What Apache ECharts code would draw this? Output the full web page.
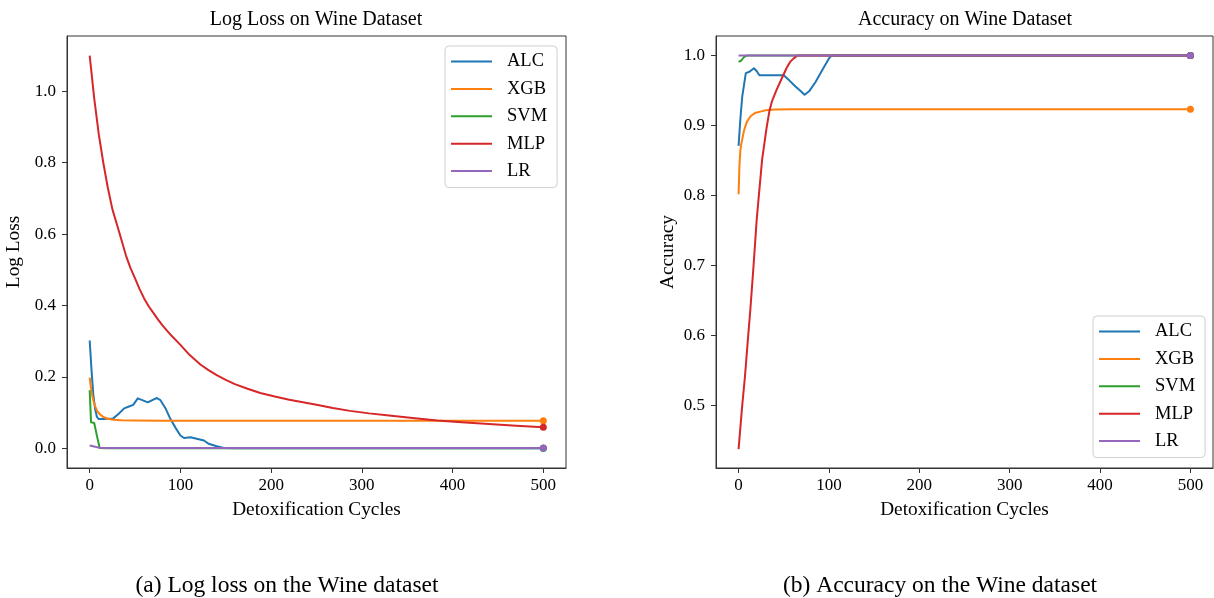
<!DOCTYPE html>
<html>
<head>
<meta charset="utf-8">
<script src="https://cdn.jsdelivr.net/npm/echarts@6/dist/echarts.min.js"></script>
<style>
  html, body { margin: 0; padding: 0; background: #fff; }
  #charts { width: 1214px; height: 598px; }
</style>
</head>
<body>
<div id="charts"></div>
<script>
// tick labels
const xTicks = [0, 100, 200, 300, 400, 500];
const lossTicks = [0, 0.2, 0.4, 0.6, 0.8, 1.0];
const accTicks = [0.5, 0.6, 0.7, 0.8, 0.9, 1.0];
const models = ['ALC', 'XGB', 'SVM', 'MLP', 'LR'];

// log loss
const lossAlcX = [0, 2, 4, 6, 8, 10, 15, 20, 26, 32, 38, 44, 48, 53, 58, 64, 69, 74, 78, 84, 89, 95, 100, 104, 111, 118, 126, 131, 140, 148, 160, 300, 500];
const lossAlcY = [0.302, 0.22, 0.15, 0.11, 0.088, 0.082, 0.082, 0.083, 0.084, 0.097, 0.112, 0.118, 0.122, 0.140, 0.135, 0.129, 0.135, 0.141, 0.135, 0.110, 0.082, 0.056, 0.036, 0.029, 0.031, 0.027, 0.022, 0.013, 0.006, 0.001, 0.0005, 0.0005, 0.0005];
const lossXgbX = [0, 1, 2, 3, 4, 5, 6, 8, 11, 15, 20, 26, 35, 50, 80, 300, 500];
const lossXgbY = [0.198, 0.178, 0.160, 0.146, 0.135, 0.126, 0.118, 0.106, 0.096, 0.088, 0.083, 0.080, 0.0785, 0.0778, 0.0775, 0.0775, 0.0775];
const lossSvmX = [0, 1.5, 5, 8, 11, 20, 500];
const lossSvmY = [0.163, 0.073, 0.071, 0.035, 0.001, 0.0005, 0.0005];
const lossMlpX = [0, 5, 10, 15, 20, 25, 32, 40, 45, 50, 55, 60, 65, 70, 75, 80, 90, 100, 110, 122, 131, 140, 150, 160, 174, 188, 204, 220, 235, 250, 268, 287, 308, 330, 356, 383, 410, 440, 470, 500];
const lossMlpY = [1.10, 0.98, 0.88, 0.80, 0.73, 0.67, 0.61, 0.54, 0.505, 0.476, 0.446, 0.42, 0.398, 0.38, 0.362, 0.345, 0.316, 0.29, 0.262, 0.235, 0.219, 0.205, 0.192, 0.18, 0.167, 0.155, 0.145, 0.136, 0.129, 0.122, 0.113, 0.105, 0.098, 0.092, 0.085, 0.078, 0.073, 0.068, 0.063, 0.059];
const lossLrX = [0, 5, 10, 20, 500];
const lossLrY = [0.008, 0.005, 0.002, 0.001, 0.001];

// accuracy
const accAlcX = [0, 2, 4, 8, 12, 17, 20, 23, 30, 40, 50, 55, 62, 68, 73, 78, 85, 92, 100, 103, 500];
const accAlcY = [0.871, 0.91, 0.941, 0.975, 0.977, 0.982, 0.978, 0.972, 0.972, 0.972, 0.972, 0.966, 0.957, 0.950, 0.944, 0.949, 0.962, 0.978, 0.996, 1.0, 1.0];
const accXgbX = [0, 1, 2, 3, 4, 6, 9, 13, 18, 24, 30, 40, 60, 500];
const accXgbY = [0.802, 0.845, 0.865, 0.874, 0.880, 0.893, 0.905, 0.913, 0.918, 0.920, 0.922, 0.923, 0.9235, 0.9235];
const accSvmX = [0, 3, 6, 9, 500];
const accSvmY = [0.991, 0.993, 0.998, 1.0, 1.0];
const accMlpX = [0, 4, 7, 10, 13, 16.5, 20, 22, 26, 31, 34, 37, 42, 48, 53, 57, 61, 65, 500];
const accMlpY = [0.438, 0.50, 0.541, 0.59, 0.637, 0.699, 0.765, 0.794, 0.851, 0.897, 0.92, 0.935, 0.951, 0.968, 0.982, 0.991, 0.996, 1.0, 1.0];
const accLrX = [0, 500];
const accLrY = [1.0, 1.0];

const colors = ['#1f77b4', '#ff7f0e', '#2ca02c', '#d62728', '#9467bd'];
const FONT = '"Liberation Serif", "Times New Roman", serif';

function line(name, xs, ys, color, idx) {
  return {
    name: name,
    type: 'line',
    xAxisIndex: idx,
    yAxisIndex: idx,
    data: xs.map((x, i) => [x, ys[i]]),
    symbol: 'circle',
    showSymbol: true,
    showAllSymbol: true,
    // only the last point gets a dot
    symbolSize: (v, p) => (p.dataIndex === xs.length - 1 ? 7 : 0),
    lineStyle: { width: 2, color: color, join: 'round' },
    itemStyle: { color: color },
    emphasis: { disabled: true },
    animation: false
  };
}

function legend(left, top) {
  return {
    data: models,
    orient: 'vertical',
    left: left,
    top: top,
    icon: 'rect',
    itemWidth: 41,
    itemHeight: 2,
    itemGap: 8.4,
    padding: [6, 10, 7, 6],
    backgroundColor: '#fff',
    borderColor: '#d0d0d0',
    borderWidth: 1,
    borderRadius: 4,
    selectedMode: false,
    textStyle: { fontFamily: FONT, fontSize: 18.5, color: '#000', lineHeight: 18, padding: [0, 0, 0, 10] }
  };
}

function xAxis(idx) {
  return {
    type: 'value',
    gridIndex: idx,
    min: -25,
    max: 525,
    name: 'Detoxification Cycles',
    nameLocation: 'middle',
    nameGap: 32,
    nameTextStyle: { fontFamily: FONT, fontSize: 19.3, color: '#000' },
    axisLine: { show: true, onZero: false, lineStyle: { color: '#333', width: 1 } },
    axisTick: { show: true, length: 5, customValues: xTicks, lineStyle: { color: '#333' } },
    axisLabel: { customValues: xTicks, margin: 9, fontFamily: FONT, fontSize: 17, color: '#000' },
    splitLine: { show: false }
  };
}

function yAxis(idx, min, max, ticks, name, gap) {
  return {
    type: 'value',
    gridIndex: idx,
    min: min,
    max: max,
    name: name,
    nameLocation: 'middle',
    nameGap: gap,
    nameTextStyle: { fontFamily: FONT, fontSize: 19.3, color: '#000' },
    axisLine: { show: true, onZero: false, lineStyle: { color: '#333', width: 1 } },
    axisTick: { show: true, length: 5, customValues: ticks, lineStyle: { color: '#333' } },
    axisLabel: { customValues: ticks, margin: 11, fontFamily: FONT, fontSize: 17, color: '#000',
      formatter: v => v.toFixed(1) },
    splitLine: { show: false }
  };
}

function label(text, x, y, size) {
  return {
    type: 'text', x: x, y: y,
    style: { text: text, fontFamily: FONT, fontSize: size, fill: '#000', align: 'center', verticalAlign: 'middle' }
  };
}

const chart = echarts.init(document.getElementById('charts'));
chart.setOption({
  backgroundColor: '#fff',
  animation: false,
  grid: [
    { left: 67, top: 36, width: 499, height: 432, show: true, borderColor: '#333', borderWidth: 1 },
    { left: 716, top: 36, width: 497, height: 432, show: true, borderColor: '#333', borderWidth: 1 }
  ],
  xAxis: [xAxis(0), xAxis(1)],
  yAxis: [
    yAxis(0, -0.055, 1.155, lossTicks, 'Log Loss', 44),
    yAxis(1, 0.411, 1.028, accTicks, 'Accuracy', 39)
  ],
  legend: [legend(445, 46), legend(1093, 316)],
  graphic: [
    label('Log Loss on Wine Dataset', 316, 20, 20),
    label('Accuracy on Wine Dataset', 965, 20, 20),
    label('(a) Log loss on the Wine dataset', 287, 586, 23.5),
    label('(b) Accuracy on the Wine dataset', 940, 586, 23.5)
  ],
  series: [
    line('ALC', lossAlcX, lossAlcY, colors[0], 0),
    line('XGB', lossXgbX, lossXgbY, colors[1], 0),
    line('SVM', lossSvmX, lossSvmY, colors[2], 0),
    line('MLP', lossMlpX, lossMlpY, colors[3], 0),
    line('LR', lossLrX, lossLrY, colors[4], 0),
    line('ALC', accAlcX, accAlcY, colors[0], 1),
    line('XGB', accXgbX, accXgbY, colors[1], 1),
    line('SVM', accSvmX, accSvmY, colors[2], 1),
    line('MLP', accMlpX, accMlpY, colors[3], 1),
    line('LR', accLrX, accLrY, colors[4], 1)
  ]
});
</script>
</body>
</html>
